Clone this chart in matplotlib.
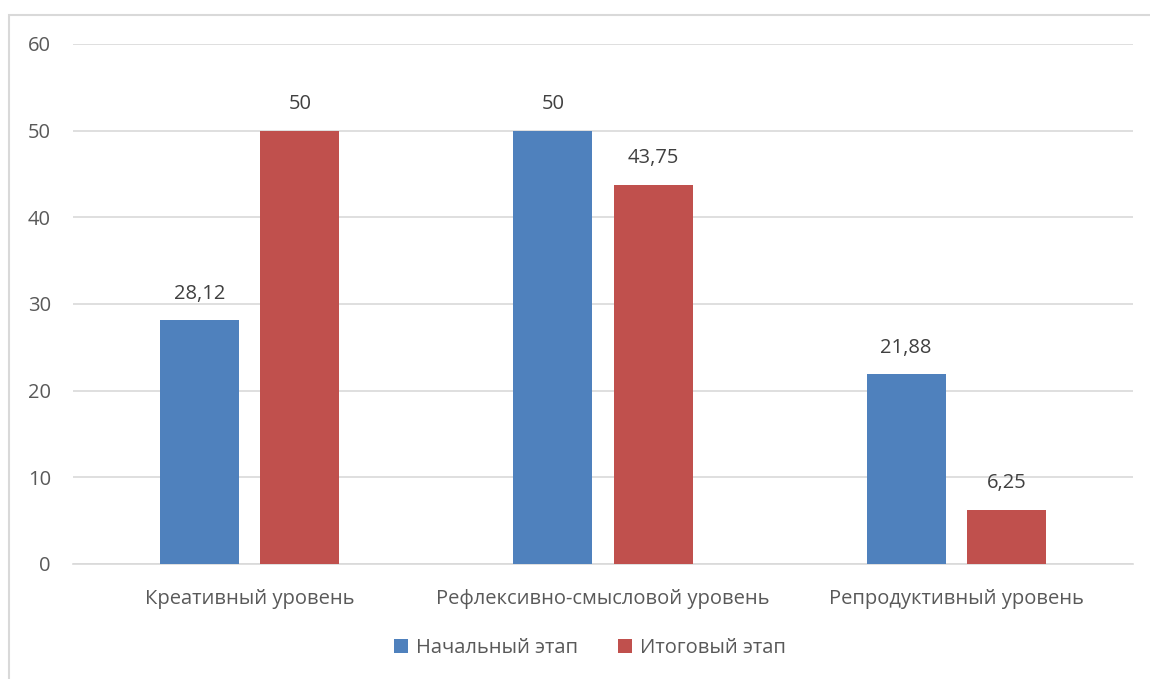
import matplotlib.pyplot as plt
import numpy as np
from matplotlib.patches import Rectangle

categories = ["Креативный уровень", "Рефлексивно-смысловой уровень", "Репродуктивный уровень"]
start_vals = [28.12, 50, 21.88]
final_vals = [50, 43.75, 6.25]
series_names = ["Начальный этап", "Итоговый этап"]
yticks = [0, 10, 20, 30, 40, 50, 60]

blue = "#4F81BD"
red = "#C0504D"
txt = "#595959"
grid = "#D9D9D9"
fs = 14.5

plt.rcParams['font.family'] = ['Open Sans', 'DejaVu Sans']

fig = plt.figure(figsize=(11.5, 6.79), dpi=100)
ax = fig.add_axes([0.0635, 0.1694, 0.9217, 0.7658])

# outer chart frame, cut off on the right and bottom
fig.patches.append(Rectangle((9 / 1150, -0.1), 2, 1 - 15 / 679 + 0.1,
                             transform=fig.transFigure, fill=False,
                             edgecolor=grid, linewidth=1.5))

x = np.arange(len(categories))
w = 0.224
off = 0.142
b1 = ax.bar(x - off, start_vals, w, color=blue, label=series_names[0], zorder=3)
b2 = ax.bar(x + off, final_vals, w, color=red, label=series_names[1], zorder=3)

def fmt(v):
    s = ("%.2f" % v).rstrip("0").rstrip(".")
    return s.replace(".", ",")

for bars, vals in ((b1, start_vals), (b2, final_vals)):
    for b, v in zip(bars, vals):
        ax.text(b.get_x() + b.get_width() / 2, v + 1.9, fmt(v),
                ha="center", va="bottom", fontsize=fs, color="#404040")

ax.set_xlim(-0.5, 2.5)
ax.set_ylim(0, 60)
ax.set_yticks(yticks)
ax.set_xticks(x)
ax.set_xticklabels(categories)
ax.yaxis.grid(True, color=grid, linewidth=1.2, zorder=0)
ax.set_axisbelow(True)
for s in ("top", "right", "left"):
    ax.spines[s].set_visible(False)
ax.spines["bottom"].set_color(grid)
ax.spines["bottom"].set_linewidth(1.2)
ax.tick_params(axis="both", length=0, labelsize=fs, labelcolor=txt)
ax.tick_params(axis="y", pad=16)
ax.tick_params(axis="x", pad=18)

fig.legend(handles=[b1, b2], labels=series_names, loc="center",
           bbox_to_anchor=(0.513, 1 - 648 / 679), ncol=2, frameon=False,
           fontsize=fs, handlelength=0.7, handleheight=0.7, columnspacing=2.0,
           handletextpad=0.4, labelcolor=txt)

fig.savefig("out.png", dpi=100)
